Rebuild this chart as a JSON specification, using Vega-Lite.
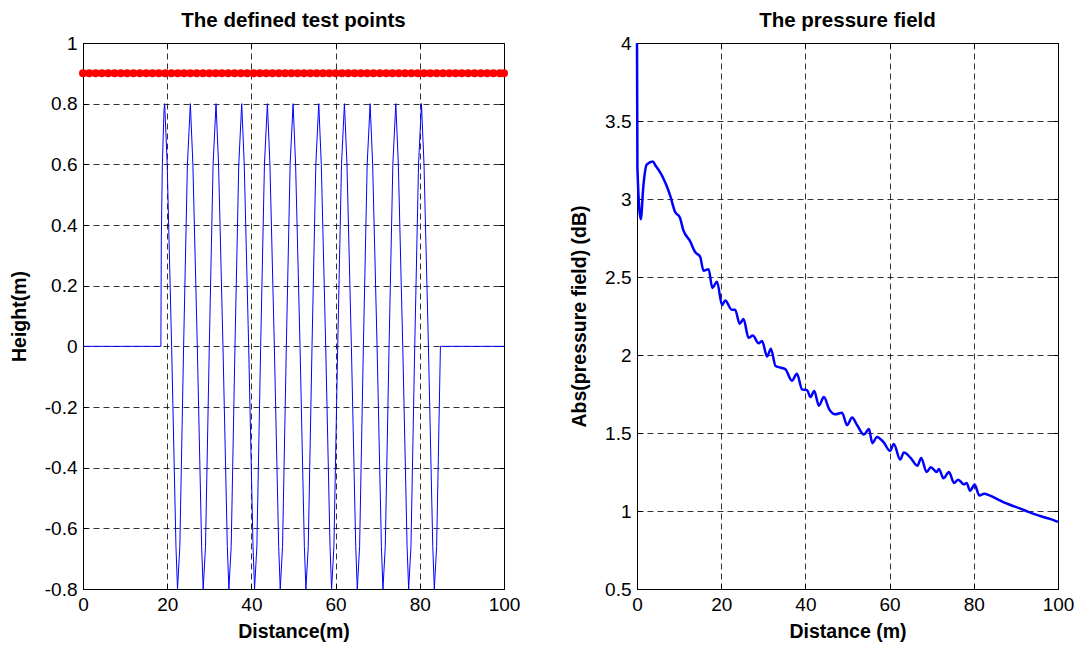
{
  "$schema": "https://vega.github.io/schema/vega-lite/v6.json",
  "padding": {"left": 8, "top": 10, "right": 5, "bottom": 5},
  "background": "white",
  "spacing": 48,
  "config": {
    "font": "Liberation Sans",
    "view": {"stroke": "black", "strokeWidth": 1},
    "axis": {
      "grid": true, "gridDash": [6, 4], "gridColor": "#000", "gridOpacity": 0.8, "gridWidth": 1,
      "ticks": true, "tickSize": -5, "tickColor": "black", "domain": false,
      "labelFont": "Liberation Sans", "labelFontSize": 19, "labelColor": "black", "labelPadding": 11,
      "labelFlush": false, "labelOverlap": false,
      "titleFont": "Liberation Sans", "titleFontSize": 19.5, "titleFontWeight": "bold", "titleColor": "black", "titlePadding": 8
    },
    "axisY": {"titlePadding": 15},
    "title": {"font": "Liberation Sans", "fontSize": 20.5, "fontWeight": "bold", "color": "black", "offset": 3}
  },
  "hconcat": [
    {
      "width": 421, "height": 546,
      "title": "The defined test points",
      "resolve": {"axis": {"x": "independent", "y": "independent"}},
      "layer": [
        {
          "data": {"values": [
            {"x": 0, "y": 0}, {"x": 18.5, "y": 0}, {"x": 18.6, "y": 0.35}, {"x": 18.85, "y": 0.6}, {"x": 19.25, "y": 0.78},
            {"x": 19.4, "y": 0.8}, {"x": 20.0, "y": 0.6}, {"x": 21.05, "y": 0}, {"x": 22.08, "y": -0.66}, {"x": 22.45, "y": -0.8}, {"x": 23.0, "y": -0.66}, {"x": 23.9, "y": 0}, {"x": 24.8, "y": 0.6},
            {"x": 25.5, "y": 0.8}, {"x": 26.1, "y": 0.6}, {"x": 27.15, "y": 0}, {"x": 28.18, "y": -0.66}, {"x": 28.55, "y": -0.8}, {"x": 29.1, "y": -0.66}, {"x": 30.0, "y": 0}, {"x": 30.9, "y": 0.6},
            {"x": 31.6, "y": 0.8}, {"x": 32.2, "y": 0.6}, {"x": 33.25, "y": 0}, {"x": 34.28, "y": -0.66}, {"x": 34.65, "y": -0.8}, {"x": 35.2, "y": -0.66}, {"x": 36.1, "y": 0}, {"x": 37.0, "y": 0.6},
            {"x": 37.7, "y": 0.8}, {"x": 38.3, "y": 0.6}, {"x": 39.35, "y": 0}, {"x": 40.38, "y": -0.66}, {"x": 40.75, "y": -0.8}, {"x": 41.3, "y": -0.66}, {"x": 42.2, "y": 0}, {"x": 43.1, "y": 0.6},
            {"x": 43.8, "y": 0.8}, {"x": 44.4, "y": 0.6}, {"x": 45.45, "y": 0}, {"x": 46.48, "y": -0.66}, {"x": 46.85, "y": -0.8}, {"x": 47.4, "y": -0.66}, {"x": 48.3, "y": 0}, {"x": 49.2, "y": 0.6},
            {"x": 49.9, "y": 0.8}, {"x": 50.5, "y": 0.6}, {"x": 51.55, "y": 0}, {"x": 52.58, "y": -0.66}, {"x": 52.95, "y": -0.8}, {"x": 53.5, "y": -0.66}, {"x": 54.4, "y": 0}, {"x": 55.3, "y": 0.6},
            {"x": 56.0, "y": 0.8}, {"x": 56.6, "y": 0.6}, {"x": 57.65, "y": 0}, {"x": 58.68, "y": -0.66}, {"x": 59.05, "y": -0.8}, {"x": 59.6, "y": -0.66}, {"x": 60.5, "y": 0}, {"x": 61.4, "y": 0.6},
            {"x": 62.1, "y": 0.8}, {"x": 62.7, "y": 0.6}, {"x": 63.75, "y": 0}, {"x": 64.78, "y": -0.66}, {"x": 65.15, "y": -0.8}, {"x": 65.7, "y": -0.66}, {"x": 66.6, "y": 0}, {"x": 67.5, "y": 0.6},
            {"x": 68.2, "y": 0.8}, {"x": 68.8, "y": 0.6}, {"x": 69.85, "y": 0}, {"x": 70.88, "y": -0.66}, {"x": 71.25, "y": -0.8}, {"x": 71.8, "y": -0.66}, {"x": 72.7, "y": 0}, {"x": 73.6, "y": 0.6},
            {"x": 74.3, "y": 0.8}, {"x": 74.9, "y": 0.6}, {"x": 75.95, "y": 0}, {"x": 76.98, "y": -0.66}, {"x": 77.35, "y": -0.8}, {"x": 77.9, "y": -0.66}, {"x": 78.8, "y": 0}, {"x": 79.7, "y": 0.6},
            {"x": 80.4, "y": 0.8}, {"x": 81.0, "y": 0.6}, {"x": 82.05, "y": 0}, {"x": 83.08, "y": -0.66}, {"x": 83.45, "y": -0.8}, {"x": 84.0, "y": -0.66}, {"x": 84.9, "y": 0}, {"x": 100, "y": 0}
          ]},
          "mark": {"type": "line", "color": "#0000ff", "strokeWidth": 1},
          "encoding": {
            "x": {"field": "x", "type": "quantitative", "scale": {"domain": [0, 100], "nice": false},
                  "axis": {"orient": "bottom", "values": [0, 20, 40, 60, 80, 100], "title": "Distance(m)"}},
            "y": {"field": "y", "type": "quantitative", "scale": {"domain": [-0.8, 1], "nice": false, "zero": false},
                  "axis": {"orient": "left", "values": [-0.8, -0.6, -0.4, -0.2, 0, 0.2, 0.4, 0.6, 0.8, 1], "title": "Height(m)", "labelExpr": "'' + datum.value"}}
          }
        },
        {
          "data": {"values": [
            {"x": 0, "y": 0.9}, {"x": 1.5, "y": 0.9}, {"x": 3, "y": 0.9}, {"x": 4.5, "y": 0.9}, {"x": 6, "y": 0.9}, {"x": 7.5, "y": 0.9},
            {"x": 9, "y": 0.9}, {"x": 10.5, "y": 0.9}, {"x": 12, "y": 0.9}, {"x": 13.5, "y": 0.9}, {"x": 15, "y": 0.9}, {"x": 16.5, "y": 0.9},
            {"x": 18, "y": 0.9}, {"x": 19.5, "y": 0.9}, {"x": 21, "y": 0.9}, {"x": 22.5, "y": 0.9}, {"x": 24, "y": 0.9}, {"x": 25.5, "y": 0.9},
            {"x": 27, "y": 0.9}, {"x": 28.5, "y": 0.9}, {"x": 30, "y": 0.9}, {"x": 31.5, "y": 0.9}, {"x": 33, "y": 0.9}, {"x": 34.5, "y": 0.9},
            {"x": 36, "y": 0.9}, {"x": 37.5, "y": 0.9}, {"x": 39, "y": 0.9}, {"x": 40.5, "y": 0.9}, {"x": 42, "y": 0.9}, {"x": 43.5, "y": 0.9},
            {"x": 45, "y": 0.9}, {"x": 46.5, "y": 0.9}, {"x": 48, "y": 0.9}, {"x": 49.5, "y": 0.9}, {"x": 51, "y": 0.9}, {"x": 52.5, "y": 0.9},
            {"x": 54, "y": 0.9}, {"x": 55.5, "y": 0.9}, {"x": 57, "y": 0.9}, {"x": 58.5, "y": 0.9}, {"x": 60, "y": 0.9}, {"x": 61.5, "y": 0.9},
            {"x": 63, "y": 0.9}, {"x": 64.5, "y": 0.9}, {"x": 66, "y": 0.9}, {"x": 67.5, "y": 0.9}, {"x": 69, "y": 0.9}, {"x": 70.5, "y": 0.9},
            {"x": 72, "y": 0.9}, {"x": 73.5, "y": 0.9}, {"x": 75, "y": 0.9}, {"x": 76.5, "y": 0.9}, {"x": 78, "y": 0.9}, {"x": 79.5, "y": 0.9},
            {"x": 81, "y": 0.9}, {"x": 82.5, "y": 0.9}, {"x": 84, "y": 0.9}, {"x": 85.5, "y": 0.9}, {"x": 87, "y": 0.9}, {"x": 88.5, "y": 0.9},
            {"x": 90, "y": 0.9}, {"x": 91.5, "y": 0.9}, {"x": 93, "y": 0.9}, {"x": 94.5, "y": 0.9}, {"x": 96, "y": 0.9}, {"x": 97.5, "y": 0.9},
            {"x": 99, "y": 0.9}, {"x": 100, "y": 0.9}
          ]},
          "mark": {"type": "point", "shape": "circle", "filled": true, "color": "#ff0000", "size": 64, "opacity": 1},
          "encoding": {
            "x": {"field": "x", "type": "quantitative", "scale": {"domain": [0, 100], "nice": false},
                  "axis": {"orient": "top", "values": [0, 20, 40, 60, 80, 100], "title": null, "labels": false, "grid": false}},
            "y": {"field": "y", "type": "quantitative", "scale": {"domain": [-0.8, 1], "nice": false, "zero": false},
                  "axis": {"orient": "right", "values": [-0.8, -0.6, -0.4, -0.2, 0, 0.2, 0.4, 0.6, 0.8, 1], "title": null, "labels": false, "grid": false}}
          }
        }
      ]
    },
    {
      "width": 421, "height": 546,
      "title": "The pressure field",
      "data": {"values": [
        {"x": 0, "y": 4}, {"x": 0.1, "y": 3.2}, {"x": 0.9, "y": 2.87}, {"x": 1.5, "y": 3.08}, {"x": 2.3, "y": 3.22},
        {"x": 3.7, "y": 3.24}, {"x": 4.5, "y": 3.21}, {"x": 5.5, "y": 3.17}, {"x": 6.3, "y": 3.13}, {"x": 7.1, "y": 3.08},
        {"x": 7.9, "y": 3.02}, {"x": 9.0, "y": 2.92}, {"x": 10.2, "y": 2.88}, {"x": 11.0, "y": 2.8}, {"x": 12.6, "y": 2.73},
        {"x": 13.8, "y": 2.66}, {"x": 15.0, "y": 2.63}, {"x": 15.8, "y": 2.54}, {"x": 17.0, "y": 2.55}, {"x": 17.9, "y": 2.43},
        {"x": 19.0, "y": 2.47}, {"x": 20.2, "y": 2.32}, {"x": 20.95, "y": 2.35}, {"x": 22.5, "y": 2.29}, {"x": 23.3, "y": 2.29},
        {"x": 24.4, "y": 2.2}, {"x": 25.3, "y": 2.23}, {"x": 26.5, "y": 2.11}, {"x": 27.5, "y": 2.125}, {"x": 28.9, "y": 2.075},
        {"x": 29.7, "y": 2.09}, {"x": 30.9, "y": 1.99}, {"x": 31.8, "y": 2.04}, {"x": 32.9, "y": 1.93}, {"x": 34.0, "y": 1.92},
        {"x": 35.2, "y": 1.91}, {"x": 36.8, "y": 1.835}, {"x": 38.0, "y": 1.88}, {"x": 39.2, "y": 1.78}, {"x": 40.4, "y": 1.775},
        {"x": 41.2, "y": 1.73}, {"x": 42.1, "y": 1.77}, {"x": 43.2, "y": 1.675}, {"x": 44.4, "y": 1.73}, {"x": 45.6, "y": 1.655},
        {"x": 47.1, "y": 1.62}, {"x": 48.7, "y": 1.63}, {"x": 49.9, "y": 1.55}, {"x": 51.1, "y": 1.6}, {"x": 52.3, "y": 1.55},
        {"x": 53.9, "y": 1.49}, {"x": 55.1, "y": 1.525}, {"x": 55.9, "y": 1.435}, {"x": 57.0, "y": 1.475}, {"x": 58.6, "y": 1.44},
        {"x": 60.1, "y": 1.385}, {"x": 61.0, "y": 1.43}, {"x": 62.5, "y": 1.33}, {"x": 63.4, "y": 1.375}, {"x": 65.0, "y": 1.34},
        {"x": 66.6, "y": 1.29}, {"x": 67.5, "y": 1.34}, {"x": 68.8, "y": 1.25}, {"x": 69.8, "y": 1.28}, {"x": 71.2, "y": 1.25},
        {"x": 71.7, "y": 1.27}, {"x": 72.8, "y": 1.21}, {"x": 74.1, "y": 1.25}, {"x": 75.3, "y": 1.18}, {"x": 76.3, "y": 1.2},
        {"x": 77.7, "y": 1.17}, {"x": 78.3, "y": 1.18}, {"x": 79.1, "y": 1.13}, {"x": 80.2, "y": 1.17}, {"x": 81.3, "y": 1.1},
        {"x": 82.5, "y": 1.11}, {"x": 83.7, "y": 1.1}, {"x": 85.7, "y": 1.075}, {"x": 87.6, "y": 1.05}, {"x": 89.6, "y": 1.03},
        {"x": 92.0, "y": 1.005}, {"x": 94.4, "y": 0.98}, {"x": 96.7, "y": 0.96}, {"x": 99.1, "y": 0.94}, {"x": 100, "y": 0.93}
      ]},
      "resolve": {"axis": {"x": "independent", "y": "independent"}},
      "layer": [
        {
          "mark": {"type": "line", "color": "#0000ff", "strokeWidth": 2.5, "interpolate": "monotone"},
          "encoding": {
            "x": {"field": "x", "type": "quantitative", "scale": {"domain": [0, 100], "nice": false},
                  "axis": {"orient": "bottom", "values": [0, 20, 40, 60, 80, 100], "title": "Distance (m)"}},
            "y": {"field": "y", "type": "quantitative", "scale": {"domain": [0.5, 4], "nice": false, "zero": false},
                  "axis": {"orient": "left", "values": [0.5, 1, 1.5, 2, 2.5, 3, 3.5, 4], "title": "Abs(pressure field) (dB)", "labelExpr": "'' + datum.value"}}
          }
        },
        {
          "mark": {"type": "line", "color": "#0000ff", "strokeWidth": 2.5, "opacity": 0, "interpolate": "monotone"},
          "encoding": {
            "x": {"field": "x", "type": "quantitative", "scale": {"domain": [0, 100], "nice": false},
                  "axis": {"orient": "top", "values": [0, 20, 40, 60, 80, 100], "title": null, "labels": false, "grid": false}},
            "y": {"field": "y", "type": "quantitative", "scale": {"domain": [0.5, 4], "nice": false, "zero": false},
                  "axis": {"orient": "right", "values": [0.5, 1, 1.5, 2, 2.5, 3, 3.5, 4], "title": null, "labels": false, "grid": false}}
          }
        }
      ]
    }
  ]
}
